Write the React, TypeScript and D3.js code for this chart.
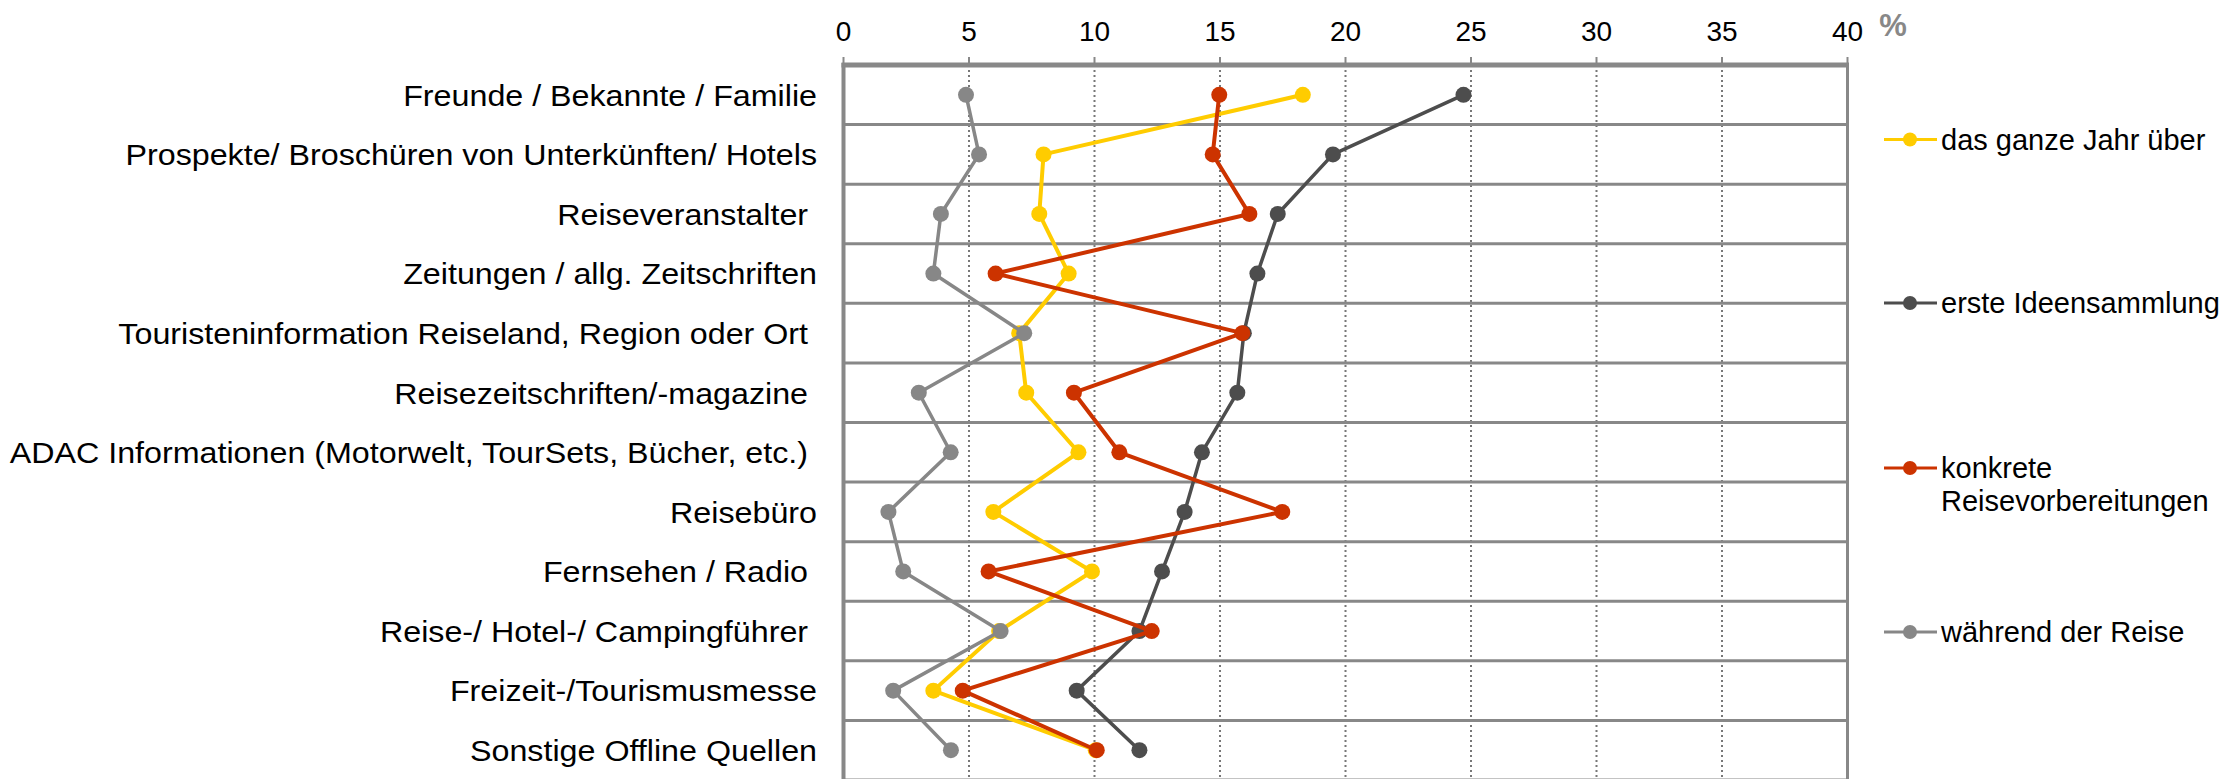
import React from "react";
import * as d3 from "d3";

const categories = [
  "Freunde / Bekannte / Familie",
  "Prospekte/ Broschüren von Unterkünften/ Hotels",
  "Reiseveranstalter ",
  "Zeitungen / allg. Zeitschriften",
  "Touristeninformation Reiseland, Region oder Ort ",
  "Reisezeitschriften/-magazine ",
  "ADAC Informationen (Motorwelt, TourSets, Bücher, etc.) ",
  "Reisebüro",
  "Fernsehen / Radio ",
  "Reise-/ Hotel-/ Campingführer ",
  "Freizeit-/Tourismusmesse",
  "Sonstige Offline Quellen",
];

const seriesNames = [
  "das ganze Jahr über",
  "erste Ideensammlung",
  "konkrete Reisevorbereitungen",
  "während der Reise",
];

const ganzesJahr = [18.3, 7.97, 7.8, 8.97, 7.0, 7.28, 9.36, 5.97, 9.9, 6.2, 3.58, 10.05];
const ersteIdeen = [24.7, 19.5, 17.3, 16.49, 15.95, 15.69, 14.28, 13.59, 12.69, 11.79, 9.29, 11.79];
const konkrete = [14.97, 14.71, 16.17, 6.06, 15.89, 9.18, 10.99, 17.48, 5.78, 12.28, 4.75, 10.09];
const waehrend = [4.88, 5.4, 3.88, 3.58, 7.2, 3.0, 4.27, 1.79, 2.38, 6.26, 1.98, 4.28];

const xTicks = [0, 5, 10, 15, 20, 25, 30, 35, 40];
const colors = ["#FFCC00", "#4D4D4D", "#CC3300", "#878787"];
const widths = [4, 3.5, 4, 3.5];

const W = 2232;
const H = 779;

export default function App() {
  const x = d3.scaleLinear().domain([0, 40]).range([843.5, 1847.5]);
  const y = d3.scaleBand<string>().domain(categories).range([65, 780]).padding(0);
  const yc = (c: string) => (y(c) as number) + y.bandwidth() / 2;
  const series = [ganzesJahr, ersteIdeen, konkrete, waehrend];
  const line = d3
    .line<number>()
    .x((d) => x(d))
    .y((_, i) => yc(categories[i]));

  const legendY = [139.5, 303, 468, 632];
  const font = "'Liberation Sans', Arial, sans-serif";

  return (
    <svg
      width={W}
      height={H}
      style={{ position: "absolute", left: 0, top: 0, display: "block", background: "#fff" }}
      fontFamily={font}
    >
      {/* dotted verticals */}
      {xTicks.slice(1, -1).map((t) => (
        <line
          key={"v" + t}
          x1={x(t)}
          x2={x(t)}
          y1={65}
          y2={780}
          stroke="#777"
          strokeWidth={2}
          strokeDasharray="2,3"
        />
      ))}
      {/* row lines */}
      {categories.slice(1).map((c) => (
        <line
          key={"h" + c}
          x1={x(0)}
          x2={x(40)}
          y1={y(c) as number}
          y2={y(c) as number}
          stroke="#888"
          strokeWidth={3}
        />
      ))}
      {/* ticks */}
      {xTicks.map((t) => (
        <line key={"t" + t} x1={x(t)} x2={x(t)} y1={57} y2={65} stroke="#888" strokeWidth={2} />
      ))}
      {/* frame */}
      <line x1={x(0) - 2} x2={x(40) + 1.5} y1={65} y2={65} stroke="#888" strokeWidth={5} />
      <line x1={x(0)} x2={x(0)} y1={63} y2={780} stroke="#888" strokeWidth={4} />
      <line x1={x(40)} x2={x(40)} y1={63} y2={780} stroke="#888" strokeWidth={3} />
      <line x1={x(0)} x2={x(40)} y1={780} y2={780} stroke="#888" strokeWidth={3} />

      {/* tick labels */}
      {xTicks.map((t) => (
        <text key={"tl" + t} x={x(t)} y={41} textAnchor="middle" fontSize={28} fill="#000">
          {t}
        </text>
      ))}
      <text x={1893} y={36} textAnchor="middle" fontSize={31} fontWeight="bold" fill="#888">
        %
      </text>

      {/* category labels */}
      <g transform="translate(817,0) scale(1.075,1)">
        {categories.map((c) => (
          <text
            key={"c" + c}
            x={0}
            y={yc(c)}
            dy="0.36em"
            textAnchor="end"
            fontSize={30}
            fill="#000"
            style={{ whiteSpace: "pre" }}
          >
            {c}
          </text>
        ))}
      </g>

      {/* series */}
      {series.map((s, si) => (
        <g key={"s" + si}>
          <path d={line(s) || ""} fill="none" stroke={colors[si]} strokeWidth={widths[si]} strokeLinejoin="round" />
          {s.map((v, i) => (
            <circle key={i} cx={x(v)} cy={yc(categories[i])} r={8} fill={colors[si]} />
          ))}
        </g>
      ))}

      {/* legend */}
      {seriesNames.map((n, i) => (
        <g key={"l" + n}>
          <line x1={1884} x2={1937} y1={legendY[i]} y2={legendY[i]} stroke={colors[i]} strokeWidth={3} />
          <circle cx={1910} cy={legendY[i]} r={7} fill={colors[i]} />
          {i === 2 ? (
            <text x={1941} y={legendY[i]} dy="0.36em" fontSize={29} fill="#000">
              <tspan x={1941}>konkrete</tspan>
              <tspan x={1941} dy={33}>
                Reisevorbereitungen
              </tspan>
            </text>
          ) : (
            <text x={1941} y={legendY[i]} dy="0.36em" fontSize={29} fill="#000">
              {n}
            </text>
          )}
        </g>
      ))}
    </svg>
  );
}
